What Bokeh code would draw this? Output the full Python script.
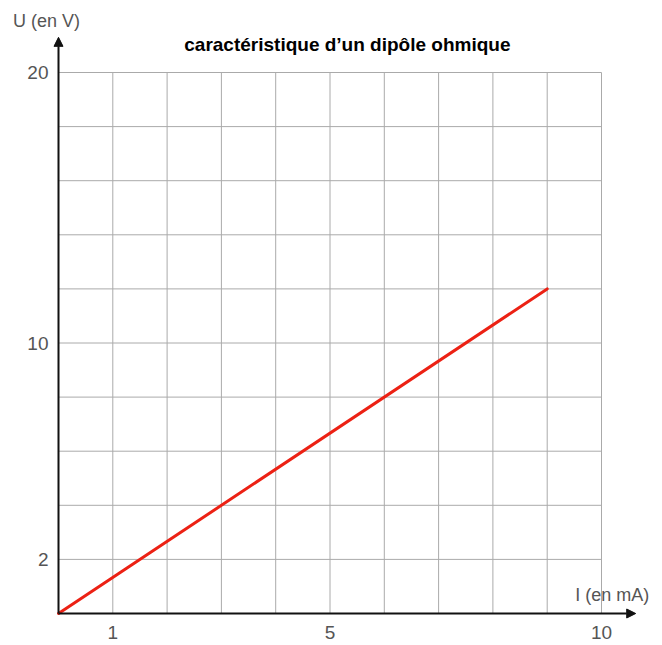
from bokeh.plotting import figure
from bokeh.models import Range1d, FixedTicker, Arrow, NormalHead, Label
from bokeh.embed import file_html
from bokeh.resources import INLINE

# Data
current_mA = [0, 9]
voltage_V = [0, 12]
x_tick_labels = [1, 5, 10]
y_tick_labels = [2, 10, 20]
x_grid = list(range(0, 11))
y_grid = list(range(0, 21, 2))
title_text = "caractéristique d’un dipôle ohmique"
x_label = "I (en mA)"
y_label = "U (en V)"

FONT = "Liberation Sans"
GRID = "#aaaaaa"
TXT = "#555555"

W, H = 660, 643
UX, UY = 54.3, 27.05   # pixels per unit
X0, Y0 = 58, 613       # pixel position of origin

p = figure(width=W, height=H,
           x_range=Range1d(-X0 / UX, (W - X0) / UX),
           y_range=Range1d(-(H - Y0) / UY, Y0 / UY),
           output_backend="svg", toolbar_location=None, title=None,
           min_border_left=0, min_border_right=0, min_border_top=0, min_border_bottom=0)
p.background_fill_color = "white"
p.border_fill_color = "white"
p.outline_line_color = None
p.xgrid.visible = False
p.ygrid.visible = False

# grid restricted to the data area
p.segment(x0=x_grid, y0=[0] * len(x_grid), x1=x_grid, y1=[20] * len(x_grid),
          line_color=GRID, line_width=1)
p.segment(x0=[0] * len(y_grid), y0=y_grid, x1=[10] * len(y_grid), y1=y_grid,
          line_color=GRID, line_width=1)

p.xaxis.ticker = FixedTicker(ticks=x_tick_labels)
p.yaxis.ticker = FixedTicker(ticks=y_tick_labels)
p.xaxis.fixed_location = 0
p.yaxis.fixed_location = 0
for ax in (p.xaxis, p.yaxis):
    ax.axis_line_color = None
    ax.major_tick_line_color = None
    ax.minor_tick_line_color = None
    ax.major_tick_out = 0
    ax.major_tick_in = 0
    ax.major_label_text_font = FONT
    ax.major_label_text_font_size = "19px"
    ax.major_label_text_color = TXT
p.xaxis.major_label_standoff = 12
p.yaxis.major_label_standoff = 10

p.line(current_mA, voltage_V, line_color="#ec2114", line_width=3, line_cap="round")

head = dict(size=9, fill_color="#111111", line_color="#111111")
p.add_layout(Arrow(x_start=0, y_start=0, x_end=0, y_end=21.3, line_color="#111111", line_width=2,
                   end=NormalHead(**head)))
p.add_layout(Arrow(x_start=0, y_start=0, x_end=10.63, y_end=0, line_color="#111111", line_width=2,
                   end=NormalHead(**head)))

p.add_layout(Label(x=-0.22, y=21.89, text=y_label, text_align="center", text_baseline="middle",
                   text_font=FONT, text_font_size="18px", text_color=TXT))
p.add_layout(Label(x=10.2, y=0.70, text=x_label, text_align="center", text_baseline="middle",
                   text_font=FONT, text_font_size="18px", text_color=TXT))
p.add_layout(Label(x=5.32, y=21.02, text=title_text, text_align="center", text_baseline="middle",
                   text_font=FONT, text_font_size="19px", text_font_style="bold", text_color="#000000"))

open("out.html", "w").write(file_html(p, INLINE))
